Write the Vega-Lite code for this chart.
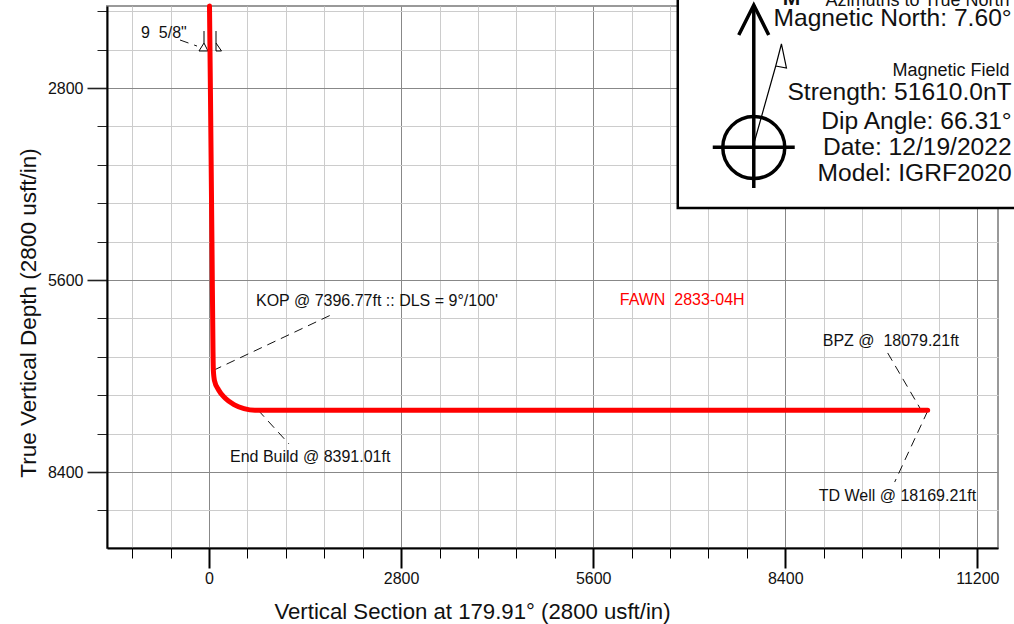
{
"$schema":"https://vega.github.io/schema/vega-lite/v6.json",
"width":891,"height":542,
"autosize":"none",
"padding":{"left":107,"top":6,"right":16,"bottom":76},
"background":"white",
"config":{"font":"Liberation Sans","view":{"stroke":"#999999","strokeWidth":2},"text":{"font":"Liberation Sans"}},
"datasets":{
"well":[{"x":7,"y":1604},{"x":22,"y":2975},{"x":44,"y":5162},{"x":58,"y":6621},{"x":63,"y":6912},{"x":79,"y":7064},{"x":140,"y":7204},{"x":237,"y":7325},{"x":364,"y":7417},{"x":510,"y":7475},{"x":670,"y":7500},{"x":10476,"y":7500}],
"leaders":[{"id":"casing","o":0,"x":-423,"y":2100},{"id":"casing","o":1,"x":-175,"y":2188},{"id":"kop","o":0,"x":58,"y":6920},{"id":"kop","o":1,"x":1807,"y":6096},{"id":"eob","o":0,"x":714,"y":7496},{"id":"eob","o":1,"x":1166,"y":7991},{"id":"bpz","o":0,"x":9893,"y":6664},{"id":"bpz","o":1,"x":10388,"y":7510},{"id":"td","o":0,"x":10476,"y":7510},{"id":"td","o":1,"x":9995,"y":8546}],
"thin":[{"id":"csgL","o":0,"x":-73,"y":1969},{"id":"csgL","o":1,"x":-73,"y":2144},{"id":"csgL","o":2,"x":-146,"y":2260},{"id":"csgL","o":3,"x":-15,"y":2260},{"id":"csgL","o":4,"x":-73,"y":2144},{"id":"csgR","o":0,"x":102,"y":1969},{"id":"csgR","o":1,"x":102,"y":2260},{"id":"csgR","o":2,"x":182,"y":2260},{"id":"csgR","o":3,"x":102,"y":2144},{"id":"mag","o":0,"x":7945,"y":3602},{"id":"mag","o":1,"x":8261,"y":2479},{"id":"mag","o":2,"x":8344,"y":2158},{"id":"mag","o":3,"x":8417,"y":2508},{"id":"mag","o":4,"x":8261,"y":2479}],
"thick":[{"id":"shaft","o":0,"x":7941,"y":1590},{"id":"shaft","o":1,"x":7941,"y":4258},{"id":"head","o":0,"x":7722,"y":2027},{"id":"head","o":1,"x":7941,"y":1590},{"id":"head","o":2,"x":8159,"y":2027},{"id":"bar","o":0,"x":7343,"y":3665},{"id":"bar","o":1,"x":8538,"y":3665}],
"notes":[{"x":-991,"y":1998,"t":"9\u00a0 5/8\""},{"x":685,"y":5907,"t":"KOP @ 7396.77ft :: DLS = 9°/100'"},{"x":8946,"y":6490,"t":"BPZ @\u00a0 18079.21ft"},{"x":306,"y":8181,"t":"End Build @ 8391.01ft"},{"x":8888,"y":8750,"t":"TD Well @ 18169.21ft"}],
"boxBig":[{"x":11700,"y":1794,"t":"Magnetic North: 7.60°"},{"x":11700,"y":2880,"t":"Strength: 51610.0nT"},{"x":11700,"y":3289,"t":"Dip Angle: 66.31°"},{"x":11700,"y":3680,"t":"Date:  12/19/2022"},{"x":11700,"y":4055,"t":"Model: IGRF2020"}],
"boxSmall":[{"x":11670,"y":2545,"t":"Magnetic  Field"},{"x":11670,"y":1532,"t":"Azimuths to True North"}]
},
"encoding":{
"x":{"field":"x","type":"quantitative","scale":{"domain":[-1487,11501],"nice":false,"zero":false},
"axis":{"title":"Vertical Section at 179.91° (2800 usft/in)","titleFontSize":22.2,"titleFontWeight":"normal","titleColor":"#111","titleX":365,"titleY":63,"titleBaseline":"middle",
"values":[-1120,-560,0,560,1120,1680,2240,2800,3360,3920,4480,5040,5600,6160,6720,7280,7840,8400,8960,9520,10080,10640,11200],
"labelExpr":"datum.value % 2800 === 0 ? datum.label : ''","format":"d","labelFontSize":16,"labelColor":"#111","labelPadding":2,"labelOverlap":false,"labelFlush":false,
"domainColor":"black","domainWidth":2,"tickColor":"black",
"tickSize":{"condition":{"test":"datum.value % 2800 === 0","value":20},"value":10},
"tickWidth":{"condition":{"test":"datum.value % 2800 === 0","value":2},"value":1},
"grid":true,"gridColor":{"condition":{"test":"datum.value % 2800 === 0","value":"#888888"},"value":"#cccccc"},"gridWidth":1}},
"y":{"field":"y","type":"quantitative","scale":{"domain":[1604,9508],"reverse":true,"nice":false,"zero":false},
"axis":{"title":"True Vertical Depth (2800 usft/in)","titleFontSize":22.5,"titleFontWeight":"normal","titleColor":"#111","titleX":-79,"titleY":306.5,"titleBaseline":"middle",
"values":[1680,2240,2800,3360,3920,4480,5040,5600,6160,6720,7280,7840,8400,8960],
"labelExpr":"datum.value % 2800 === 0 ? datum.label : ''","format":"d","labelFontSize":16,"labelColor":"#111","labelPadding":4,"labelOverlap":false,
"domainColor":"black","domainWidth":2,"tickColor":"#222222",
"tickSize":{"condition":{"test":"datum.value % 2800 === 0","value":20},"value":10},
"tickWidth":{"condition":{"test":"datum.value % 2800 === 0","value":1.6},"value":1},
"grid":true,"gridColor":{"condition":{"test":"datum.value % 2800 === 0","value":"#888888"},"value":"#cccccc"},"gridWidth":1}}
},
"layer":[
{"data":{"name":"leaders"},"mark":{"type":"line","color":"#111","strokeWidth":1,"strokeDash":[9,6]},"encoding":{"detail":{"field":"id"},"order":{"field":"o"}}},
{"data":{"name":"thin"},"mark":{"type":"line","color":"black","strokeWidth":1},"encoding":{"detail":{"field":"id"},"order":{"field":"o"}}},
{"data":{"name":"well"},"mark":{"type":"line","color":"#ff0000","strokeWidth":5,"strokeCap":"round","strokeJoin":"round","interpolate":"monotone"},"encoding":{}},
{"data":{"name":"notes"},"mark":{"type":"text","align":"left","baseline":"middle","fontSize":16,"color":"#111"},"encoding":{"text":{"field":"t"}}},
{"data":{"values":[{"x":5988,"y":5892,"t":"FAWN\u00a0 2833-04H"}]},"mark":{"type":"text","align":"left","baseline":"middle","fontSize":16,"color":"#ff0000"},"encoding":{"text":{"field":"t"}}},
{"data":{"values":[{"x":6833,"x2":11816,"y":1444,"y2":4550}]},"mark":{"type":"rect","fill":"white","stroke":"black","strokeWidth":2.5},"encoding":{"x2":{"field":"x2"},"y2":{"field":"y2"}}},
{"data":{"name":"thick"},"mark":{"type":"line","color":"black","strokeWidth":3.5,"strokeJoin":"miter"},"encoding":{"detail":{"field":"id"},"order":{"field":"o"}}},
{"data":{"name":"thin"},"transform":[{"filter":"datum.id === 'mag'"}],"mark":{"type":"line","color":"black","strokeWidth":1.2},"encoding":{"order":{"field":"o"}}},
{"data":{"values":[{"x":7941,"y":3668}]},"mark":{"type":"point","shape":"circle","size":3844,"filled":false,"stroke":"black","strokeWidth":3.5,"opacity":1},"encoding":{}},
{"data":{"name":"boxBig"},"mark":{"type":"text","align":"right","baseline":"middle","fontSize":24.6,"color":"#111"},"encoding":{"text":{"field":"t"}}},
{"data":{"name":"boxSmall"},"mark":{"type":"text","align":"right","baseline":"middle","fontSize":18,"color":"#111"},"encoding":{"text":{"field":"t"}}},
{"data":{"values":[{"x":8490,"y":1502,"t":"M"}]},"mark":{"type":"text","align":"center","baseline":"middle","fontSize":21,"fontWeight":"bold","color":"#111"},"encoding":{"text":{"field":"t"}}}
]
}
